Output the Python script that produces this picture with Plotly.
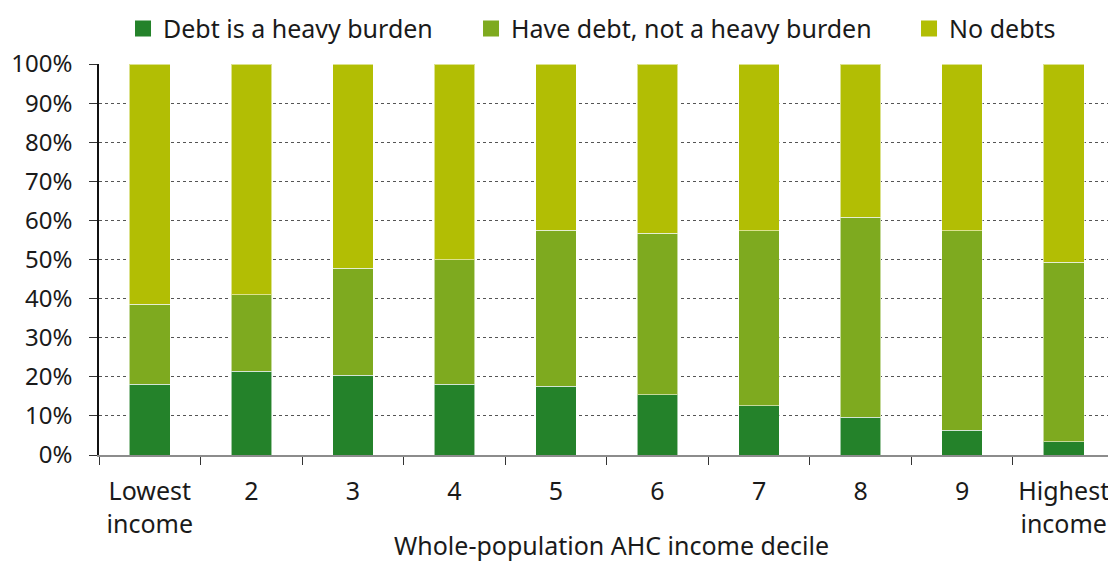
import plotly.graph_objects as go

# Déciles de revenu (AHC), du plus bas au plus haut
categories = ["Lowest<br>income", "2", "3", "4", "5", "6", "7", "8", "9", "Highest<br>income"]

heavy_burden = [18.1, 21.4, 20.4, 18.1, 17.6, 15.4, 12.6, 9.6, 6.3, 3.4]
debt_not_heavy = [20.5, 19.6, 27.4, 31.9, 39.9, 41.3, 44.8, 51.2, 51.0, 45.9]
no_debts = [61.4, 59.0, 52.2, 50.0, 42.5, 43.3, 42.6, 39.2, 42.7, 50.7]

y_ticks = [0, 10, 20, 30, 40, 50, 60, 70, 80, 90, 100]
y_tick_labels = [f"{v}%" for v in y_ticks]

x_title = "Whole-population AHC income decile"

series = [
    ("Debt is a heavy burden", heavy_burden, "#24822a", "legend", 0.0238),
    ("Have debt, not a heavy burden", debt_not_heavy, "#7eaa1f", "legend2", 0.3687),
    ("No debts", no_debts, "#b2be04", "legend3", 0.8028),
]

fig = go.Figure()
legend_layouts = {}
for name, values, colour, legend_id, legend_x in series:
    fig.add_trace(go.Bar(
        x=categories,
        y=values,
        name=name,
        showlegend=False,
        marker=dict(color=colour, line=dict(color="rgba(255,255,255,0.55)", width=1)),
    ))
    # carré de légende plus grand que le symbole de barre par défaut
    fig.add_trace(go.Scatter(
        x=[None],
        y=[None],
        mode="markers",
        name=name,
        legend=legend_id,
        marker=dict(symbol="square", size=16, color=colour),
    ))
    legend_layouts[legend_id] = dict(
        orientation="h",
        x=legend_x,
        xanchor="left",
        y=1.09,
        yanchor="middle",
        font=dict(size=25),
        bgcolor="rgba(0,0,0,0)",
    )

fig.update_layout(
    barmode="stack",
    bargap=0.6,
    width=1108,
    height=562,
    margin=dict(l=99, r=0, t=64, b=107),
    plot_bgcolor="white",
    paper_bgcolor="white",
    font=dict(family="Noto Sans", size=25, color="#1a1a1a"),
    **legend_layouts,
)

# titre de l'axe x en annotation, un peu décalé à droite comme l'original
fig.add_annotation(
    text=x_title,
    xref="paper",
    yref="paper",
    x=0.5084,
    y=-0.229,
    xanchor="center",
    yanchor="middle",
    showarrow=False,
    font=dict(size=25),
)

fig.update_xaxes(
    range=[-0.5, 9.436],
    showline=True,
    linecolor="#8c8c8c",
    linewidth=2,
    ticks="outside",
    tickson="boundaries",
    ticklen=8,
    tickcolor="#333",
    ticklabelstandoff=13,
    tickfont=dict(size=25),
)

fig.update_yaxes(
    range=[0, 100],
    tickvals=y_ticks,
    ticktext=y_tick_labels,
    showgrid=True,
    gridcolor="#555",
    griddash="dot",
    gridwidth=1,
    showline=True,
    linecolor="#111",
    linewidth=1.5,
    ticks="outside",
    ticklen=8,
    tickcolor="#333",
    ticklabelstandoff=12,
    tickfont=dict(size=24),
    zeroline=False,
)

fig.write_html(
    "out.html",
    config={"displayModeBar": False},
    post_script="document.body.style.margin='0';document.body.style.overflow='hidden';",
)
